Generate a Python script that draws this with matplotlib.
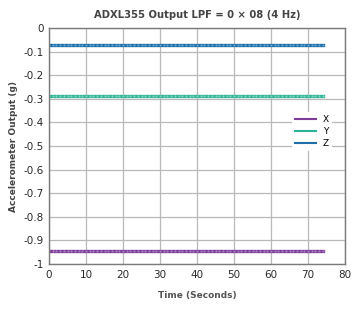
import matplotlib
matplotlib.use("Agg")
import matplotlib.pyplot as plt

time_s = list(range(0, 75))
x_vals = [-0.945] * len(time_s)
y_vals = [-0.29] * len(time_s)
z_vals = [-0.07] * len(time_s)
series = [("X", x_vals, "#7d3c98", "#a77bbf"), ("Y", y_vals, "#2db395", "#7fd3bd"), ("Z", z_vals, "#1f6ea8", "#5fa0cf")]
xticks = [0, 10, 20, 30, 40, 50, 60, 70, 80]
yticks = [0, -0.1, -0.2, -0.3, -0.4, -0.5, -0.6, -0.7, -0.8, -0.9, -1]
ytick_labels = ["0", "-0.1", "-0.2", "-0.3", "-0.4", "-0.5", "-0.6", "-0.7", "-0.8", "-0.9", "-1"]

plt.rcParams['font.family'] = ['DejaVu Sans']
fig = plt.figure(figsize=(3.6, 3.09), dpi=100)
ax = fig.add_axes([49/360, 1 - 264/309, 296/360, 236/309])

for name, vals, col, mcol in series:
    ax.plot(time_s, vals, color=col, lw=2.4, marker='o', ms=1.6, mew=0, mfc=mcol, label=name)

ax.set_xlim(0, 80)
ax.set_ylim(-1, 0)
ax.set_xticks(xticks)
ax.set_yticks(yticks)
ax.set_yticklabels(ytick_labels)
ax.grid(True, color="#b8b8b8", lw=0.9)
ax.set_axisbelow(True)
for s in ax.spines.values():
    s.set_color("#7a7a7a")
    s.set_linewidth(1.0)
ax.tick_params(axis='both', labelsize=7.5, length=0, pad=4, colors="#2a2a2a")
ax.set_title("ADXL355 Output LPF = 0 × 08 (4 Hz)", fontsize=7.2, fontweight='bold', color="#444444", pad=7)
ax.set_xlabel("Time (Seconds)", fontsize=6.5, fontweight='bold', color="#555555", labelpad=8)
ax.set_ylabel("Accelerometer Output (g)", fontsize=6.5, fontweight='bold', color="#444444", labelpad=4)

leg = ax.legend(loc='center right', bbox_to_anchor=(0.97, 0.56), fontsize=6.5, frameon=True,
                handlelength=2.3, labelspacing=0.35, handletextpad=0.8, borderpad=0.3)
leg.get_frame().set_edgecolor('none')
leg.get_frame().set_facecolor('white')
leg.get_frame().set_alpha(1)
for h in leg.get_lines():
    h.set_marker('')
    h.set_linewidth(1.5)

fig.savefig("out.png", dpi=100)
